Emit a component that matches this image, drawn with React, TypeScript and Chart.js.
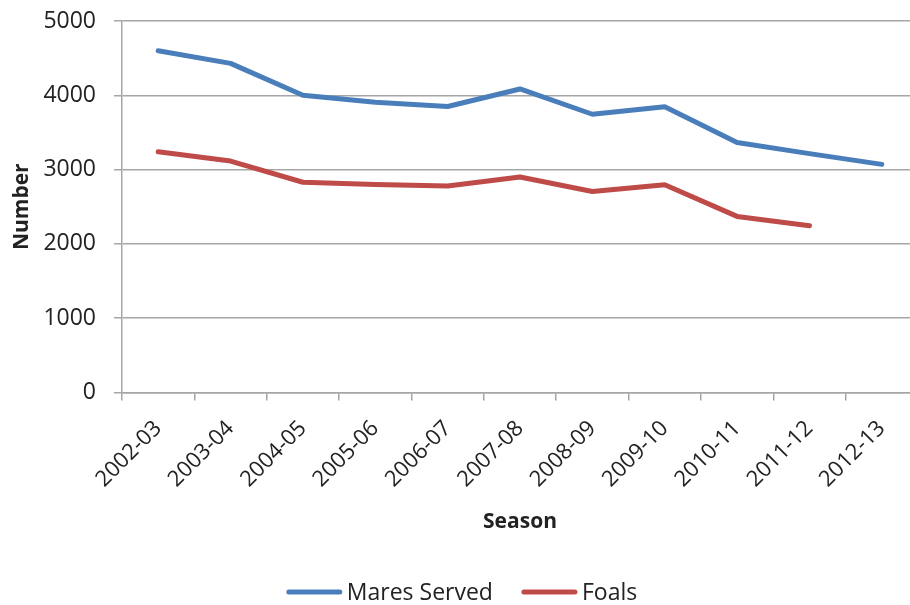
import React, { useEffect, useRef } from "react";
import { Chart, registerables } from "chart.js";

Chart.register(...registerables);

// Breeding seasons and counts per season
const seasons = [
  "2002-03", "2003-04", "2004-05", "2005-06", "2006-07", "2007-08",
  "2008-09", "2009-10", "2010-11", "2011-12", "2012-13",
];
const maresServed = [4600, 4430, 4000, 3905, 3850, 4085, 3745, 3845, 3365, 3215, 3070];
const foals = [3240, 3115, 2830, 2800, 2780, 2900, 2705, 2795, 2370, 2245, null];

const yMin = 0;
const yMax = 5000;
const yStep = 1000;

const BLUE = "#4A7EBB";
const RED = "#BE4B48";
const GRID = "#A6A6A6";
const TEXT = "#222222";
const FONT = "'Open Sans', 'Noto Sans', sans-serif";

// Legend drawn as short thick lines followed by the series name
const lineLegend = {
  id: "lineLegend",
  afterDraw(chart: any) {
    const ctx: CanvasRenderingContext2D = chart.ctx;
    const lineLen = 55;
    const lineGap = 5;
    const itemGap = 29;
    const centerX = 462;
    const y = 592;
    ctx.save();
    ctx.font = `23px ${FONT}`;
    const items = chart.data.datasets.map((ds: any) => ({
      label: ds.label as string,
      color: ds.borderColor as string,
      w: ctx.measureText(ds.label).width,
    }));
    const total =
      items.reduce((s: number, it: any) => s + lineLen + lineGap + it.w, 0) +
      itemGap * (items.length - 1);
    let x = centerX - total / 2;
    for (const it of items) {
      ctx.beginPath();
      ctx.strokeStyle = it.color;
      ctx.lineWidth = 5;
      ctx.lineCap = "round";
      ctx.moveTo(x + 2, y);
      ctx.lineTo(x + lineLen - 2, y);
      ctx.stroke();
      ctx.fillStyle = TEXT;
      ctx.textAlign = "left";
      ctx.textBaseline = "middle";
      ctx.fillText(it.label, x + lineLen + lineGap, y + 1);
      x += lineLen + lineGap + it.w + itemGap;
    }
    ctx.restore();
  },
};

export default function App() {
  const canvasRef = useRef<HTMLCanvasElement | null>(null);

  useEffect(() => {
    const canvas = canvasRef.current;
    if (!canvas) return;
    const chart = new Chart(canvas, {
      type: "line",
      data: {
        labels: seasons,
        datasets: [
          {
            label: "Mares Served",
            data: maresServed,
            borderColor: BLUE,
            backgroundColor: BLUE,
            borderWidth: 5,
            pointRadius: 0,
            pointHoverRadius: 0,
            tension: 0,
            borderCapStyle: "round",
            borderJoinStyle: "round",
          },
          {
            label: "Foals",
            data: foals,
            borderColor: RED,
            backgroundColor: RED,
            borderWidth: 5,
            pointRadius: 0,
            pointHoverRadius: 0,
            tension: 0,
            borderCapStyle: "round",
            borderJoinStyle: "round",
          },
        ],
      },
      options: {
        responsive: false,
        animation: false,
        events: [],
        layout: { padding: { top: 21, right: 12, bottom: 62.5, left: 0 } },
        plugins: {
          legend: { display: false },
          tooltip: { enabled: false },
          title: { display: false },
        },
        scales: {
          x: {
            type: "category",
            offset: true,
            grid: {
              offset: true,
              drawOnChartArea: false,
              drawTicks: true,
              tickLength: 8,
              color: GRID,
              lineWidth: 1.5,
            },
            border: { display: true, color: GRID, width: 1.5 },
            ticks: {
              minRotation: 45,
              maxRotation: 45,
              autoSkip: false,
              padding: 15,
              color: TEXT,
              font: { family: FONT, size: 22 },
            },
            title: {
              display: true,
              text: "Season",
              color: TEXT,
              font: { family: FONT, size: 21, weight: "bold" },
              padding: { top: 0, bottom: 8 },
            },
            afterFit(scale: any) {
              scale.height = 150;
              scale.paddingLeft = 0;
              scale.paddingRight = 0;
            },
          },
          y: {
            min: yMin,
            max: yMax,
            grid: {
              drawOnChartArea: true,
              drawTicks: true,
              tickLength: 8,
              color: GRID,
              lineWidth: 1.5,
            },
            border: { display: true, color: GRID, width: 1.5 },
            ticks: {
              stepSize: yStep,
              padding: 18,
              color: TEXT,
              font: { family: FONT, size: 23 },
              callback: (value: any) => String(value),
            },
            title: {
              display: true,
              text: "Number",
              color: TEXT,
              font: { family: FONT, size: 21, weight: "bold" },
              padding: { top: 9.4, bottom: 0 },
            },
            afterFit(scale: any) {
              scale.width = 122;
              scale.paddingTop = 0;
              scale.paddingBottom = 0;
            },
          },
        },
      },
      plugins: [lineLegend],
    });
    return () => chart.destroy();
  }, []);

  return (
    <div
      style={{
        position: "fixed",
        left: 0,
        top: 0,
        width: 910,
        height: 605,
        overflow: "hidden",
        background: "#ffffff",
      }}
    >
      <canvas
        ref={canvasRef}
        width={930}
        height={605}
        style={{ display: "block", width: 930, height: 605 }}
      />
    </div>
  );
}
